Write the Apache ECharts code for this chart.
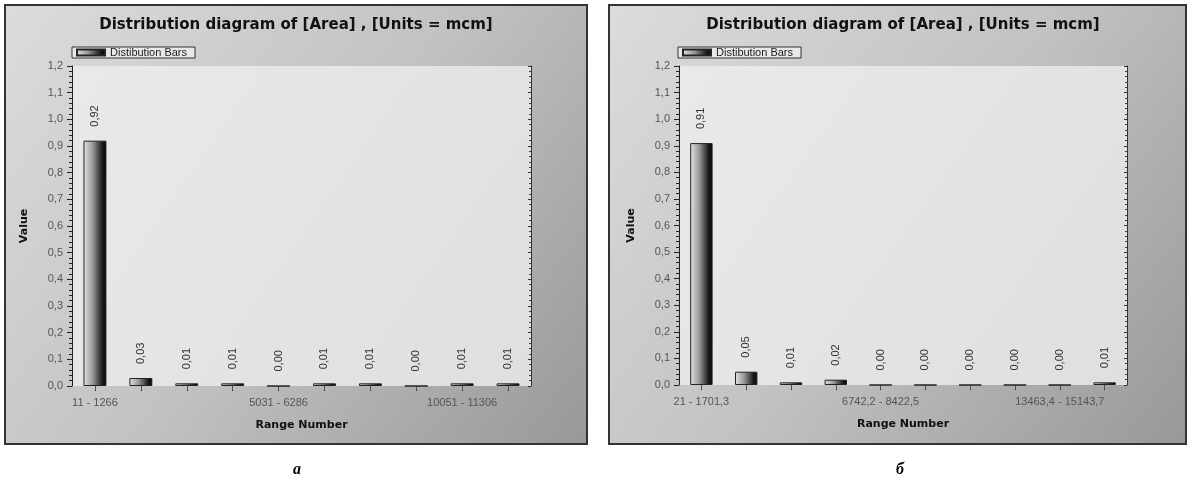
<!DOCTYPE html>
<html>
<head>
<meta charset="utf-8">
<script src="https://cdn.jsdelivr.net/npm/echarts@6/dist/echarts.min.js"></script>
<style>
html,body{margin:0;padding:0;background:#fff;}
#c{width:1188px;height:484px;}
</style>
</head>
<body>
<div id="c"></div>
<script>
// ---- data ----
const titleText = 'Distribution diagram of [Area] , [Units = mcm]';
const legendName = 'Distibution Bars';
const catsA = ['11 - 1266','1266 - 2521','2521 - 3776','3776 - 5031','5031 - 6286','6286 - 7541','7541 - 8796','8796 - 10051','10051 - 11306','11306 - 12561'];
const valsA = [0.92,0.03,0.01,0.01,0.00,0.01,0.01,0.00,0.01,0.01];
const catsB = ['21 - 1701,3','1701,3 - 3381,6','3381,6 - 5061,9','5061,9 - 6742,2','6742,2 - 8422,5','8422,5 - 10102,8','10102,8 - 11783,1','11783,1 - 13463,4','13463,4 - 15143,7','15143,7 - 16824'];
const valsB = [0.91,0.05,0.01,0.02,0.00,0.00,0.00,0.00,0.00,0.01];
const yMin = 0, yMax = 1.2, yStep = 0.1;
const captions = ['а','б'];

const chart = echarts.init(document.getElementById('c'), null, {renderer:'canvas'});
const comma = v => String(v.toFixed(1)).replace('.', ',');
const comma2 = v => v.toFixed(2).replace('.', ',');

const barGrad = new echarts.graphic.LinearGradient(0,0,1,0,[
  {offset:0,color:'#e4e4e4'},{offset:0.4,color:'#999'},{offset:0.8,color:'#202020'},{offset:1,color:'#000'}
]);
const panelGrad = () => new echarts.graphic.LinearGradient(0,0,1,1,[
  {offset:0,color:'#dcdcdc'},{offset:0.5,color:'#c2c2c2'},{offset:1,color:'#989898'}
]);
const plotGrad = new echarts.graphic.LinearGradient(0,0,1,1,[
  {offset:0,color:'#e9e9e9'},{offset:1,color:'#dfdfdf'}
]);

const grids = [
  {left:72, top:66, width:459, height:320},
  {left:679, top:66, width:448, height:319}
];
const panels = [
  {x:5, y:5, w:582, h:439, tx:296, cx:297},
  {x:609, y:5, w:577, h:439, tx:903, cx:900}
];

function xAxes(cats, gi){
  return [
    {type:'category', gridIndex:gi, data:cats, position:'bottom',
     axisLine:{show:false},
     axisTick:{show:true, alignWithLabel:true, interval:0, length:5, lineStyle:{color:'#222'}},
     axisLabel:{interval:3, fontFamily:'Liberation Sans', fontSize:11, color:'#555', margin:11},
     name:'Range Number', nameLocation:'middle', nameGap:34,
     nameTextStyle:{fontFamily:'DejaVu Sans', fontWeight:'bold', fontSize:11, color:'#111'}},
    {type:'category', gridIndex:gi, data:cats, position:'top',
     axisLine:{show:false},
     axisTick:{show:true, alignWithLabel:true, inside:true, interval:0, length:4, lineStyle:{color:'#555'}},
     axisLabel:{show:false}}
  ];
}
function yAxes(gi){
  return [
    {type:'value', gridIndex:gi, min:yMin, max:yMax, interval:yStep, position:'left',
     axisLine:{show:true, lineStyle:{color:'#222', width:1}},
     axisTick:{show:true, length:5, lineStyle:{color:'#222'}},
     minorTick:{show:true, splitNumber:5, length:3, lineStyle:{color:'#222'}},
     splitLine:{show:false},
     axisLabel:{formatter:comma, fontFamily:'Liberation Sans', fontSize:11, color:'#555', margin:9},
     name:'Value', nameLocation:'middle', nameGap:42,
     nameTextStyle:{fontFamily:'DejaVu Sans', fontWeight:'bold', fontSize:11, color:'#111'}},
    {type:'value', gridIndex:gi, min:yMin, max:yMax, interval:yStep, position:'right',
     axisLine:{show:true, lineStyle:{color:'#333', width:1}},
     axisTick:{show:true, inside:true, length:3, lineStyle:{color:'#333'}},
     minorTick:{show:true, splitNumber:5, length:2, lineStyle:{color:'#444'}},
     splitLine:{show:false}, axisLabel:{show:false}}
  ];
}

function barSeries(vals, gi){
  return {
    type:'bar', name:legendName, xAxisIndex:gi*2, yAxisIndex:gi*2, data:vals,
    barWidth:'50%',
    itemStyle:{color:barGrad, borderColor:'#222', borderWidth:1},
    label:{show:true, position:'top', rotate:90, align:'left', verticalAlign:'middle', distance:14,
      formatter:p => comma2(p.value), fontFamily:'Liberation Sans', fontSize:11, color:'#333'},
    emphasis:{disabled:true}
  };
}

const graphic = [];
panels.forEach((p, i) => {
  graphic.push({type:'rect', z:-10, shape:{x:p.x, y:p.y, width:p.w, height:p.h},
    style:{fill:panelGrad(), stroke:'#333', lineWidth:2}});
  graphic.push({type:'text', z:10, x:p.tx, y:25, style:{text:titleText, font:'bold 15px "DejaVu Sans"', fill:'#111', textAlign:'center', textVerticalAlign:'middle'}});
  graphic.push({type:'text', z:10, x:p.cx, y:470, style:{text:captions[i], font:'italic bold 16px "Liberation Serif"', fill:'#000', textAlign:'center', textVerticalAlign:'middle'}});
});

const legendCommon = {data:[legendName], itemWidth:28, itemHeight:6, itemGap:6, padding:[0,8,0,4],
  borderColor:'#333', borderWidth:1, backgroundColor:'#e8e8e8', icon:'rect',
  textStyle:{fontFamily:'Liberation Sans', fontSize:11, color:'#222'}, selectedMode:false};

const option = {
  animation:false,
  backgroundColor:'#fff',
  graphic: graphic,
  legend: [
    Object.assign({left:72, top:47}, legendCommon),
    Object.assign({left:678, top:47}, legendCommon)
  ],
  grid: grids.map(g => Object.assign({show:true, backgroundColor:plotGrad, borderWidth:0, containLabel:false}, g)),
  xAxis: [...xAxes(catsA,0), ...xAxes(catsB,1)],
  yAxis: [...yAxes(0), ...yAxes(1)],
  series: [barSeries(valsA,0), barSeries(valsB,1)]
};
chart.setOption(option);
</script>
</body>
</html>
